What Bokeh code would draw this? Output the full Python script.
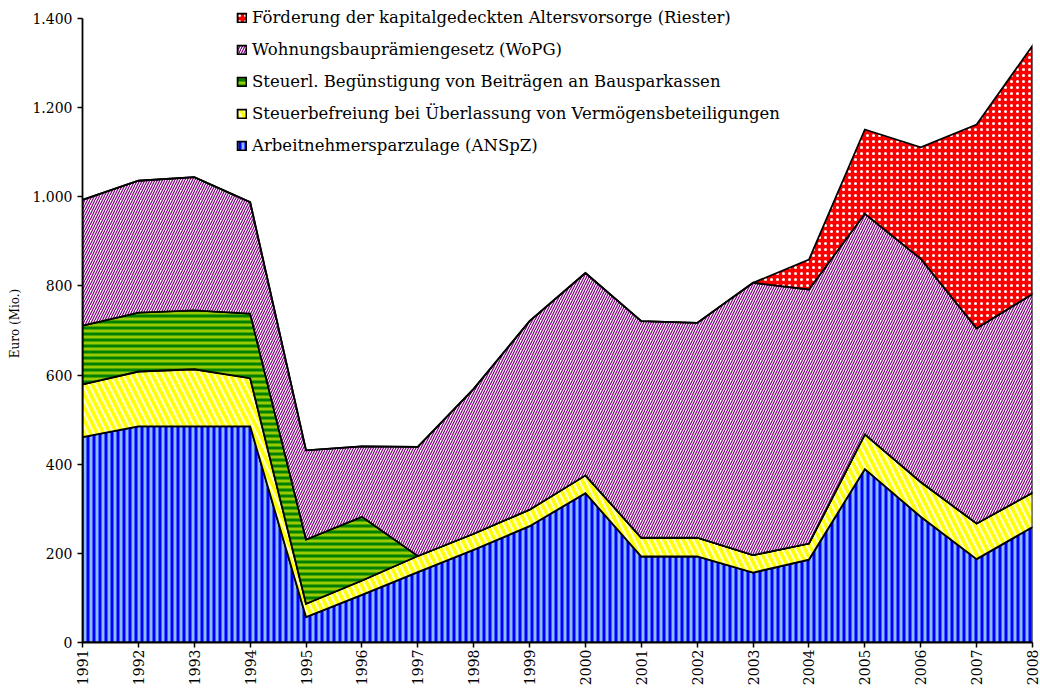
import numpy as np
from bokeh.plotting import figure
from bokeh.models import FixedTicker, Legend, LegendItem, Range1d
from bokeh.embed import file_html
from bokeh.resources import INLINE

years = list(range(1991, 2009))
series_names = [
    "Arbeitnehmersparzulage (ANSpZ)",
    "Steuerbefreiung bei Überlassung von Vermögensbeteiligungen",
    "Steuerl. Begünstigung von Beiträgen an Bausparkassen",
    "Wohnungsbauprämiengesetz (WoPG)",
    "Förderung der kapitalgedeckten Altersvorsorge (Riester)",
]
anspz = [461, 485, 485, 485, 57, 107, 158, 208, 261, 335, 193, 193, 157, 186, 389, 282, 187, 259]
verm = [118, 123, 128, 108, 30, 32, 36, 36, 37, 40, 42, 42, 39, 36, 78, 78, 80, 77]
bauspar = [132, 132, 132, 145, 144, 143, 0, 0, 0, 0, 0, 0, 0, 0, 0, 0, 0, 0]
wopg = [282, 296, 299, 250, 200, 158, 245, 325, 423, 454, 486, 482, 611, 570, 495, 501, 438, 446]
riester = [0, 0, 0, 0, 0, 0, 0, 0, 0, 0, 0, 0, 0, 67, 189, 250, 457, 557]

y_ticks = [0, 200, 400, 600, 800, 1000, 1200, 1400]
y_tick_labels = ["0", "200", "400", "600", "800", "1.000", "1.200", "1.400"]

styles = [
    dict(fill_color="#8cbcff", hatch_pattern="vertical_line", hatch_color="#0000ff", hatch_scale=6, hatch_weight=3),
    dict(fill_color="#ffffcc", hatch_pattern="left_diagonal_line", hatch_color="#ffff00", hatch_scale=13, hatch_weight=3.5),
    dict(fill_color="#99cc00", hatch_pattern="horizontal_line", hatch_color="#008000", hatch_scale=6, hatch_weight=3),
    dict(fill_color="#ffffff", hatch_pattern="right_diagonal_line", hatch_color="#800080", hatch_scale=5, hatch_weight=1.2),
    dict(fill_color="#ff0000", hatch_pattern="dot", hatch_color="#ffffff", hatch_scale=6, hatch_weight=1.0),
]

FONT = "DejaVu Serif"

# frame extends a little above 1400 so the legend's first row is not clipped;
# the y axis line itself stops at 1400 via bounds
top_border = 4
y_end = 1400 + (18 - top_border) * 1400 / 624

p = figure(width=1040, height=688, output_backend="svg", toolbar_location=None,
           x_range=Range1d(1991, 2008), y_range=Range1d(0, y_end),
           min_border_left=82, min_border_right=8, min_border_top=top_border, min_border_bottom=46)
p.grid.visible = False
p.outline_line_color = None

data = [anspz, verm, bauspar, wopg, riester]
bottom = np.zeros(len(years))
renderers = []
for vals, st in zip(data, styles):
    top = bottom + np.array(vals, dtype=float)
    xs = years + years[::-1]
    ys = list(top) + list(bottom[::-1])
    r = p.patch(xs, ys, line_color="black", line_width=1.8, line_join="miter", **st)
    renderers.append(r)
    bottom = top

items = [LegendItem(label=n, renderers=[r]) for n, r in zip(series_names, renderers)][::-1]
legend = Legend(items=items, location=(154, 487), orientation="vertical",
                padding=0, margin=0, spacing=13, glyph_width=11, glyph_height=11,
                label_height=16, label_standoff=5,
                label_text_font=FONT, label_text_font_size="16.5px",
                label_text_color="black",
                border_line_alpha=0, background_fill_alpha=0)
p.add_layout(legend)

p.xaxis.ticker = FixedTicker(ticks=years)
p.xaxis.major_label_orientation = np.pi / 2
p.yaxis.ticker = FixedTicker(ticks=y_ticks)
p.yaxis.bounds = (0, 1400)
p.yaxis.major_label_overrides = {t: l for t, l in zip(y_ticks, y_tick_labels)}
for ax in (p.xaxis, p.yaxis):
    ax.axis_line_color = "black"
    ax.axis_line_width = 1.8
    ax.major_tick_line_color = "black"
    ax.major_tick_line_width = 1.5
    ax.major_tick_out = 5
    ax.major_tick_in = 0
    ax.minor_tick_line_color = None
    ax.major_label_text_font = FONT
    ax.major_label_text_color = "black"
p.xaxis.major_label_standoff = 2
p.yaxis.major_label_standoff = 5
p.xaxis.major_label_text_font_size = "14px"
p.yaxis.major_label_text_font_size = "14px"
p.yaxis.axis_label = "Euro (Mio.)"
p.yaxis.axis_label_text_font = FONT
p.yaxis.axis_label_text_font_size = "12px"
p.yaxis.axis_label_text_font_style = "normal"
p.yaxis.axis_label_text_color = "black"
p.yaxis.axis_label_standoff = 7

open("out.html", "w").write(file_html(p, INLINE))
